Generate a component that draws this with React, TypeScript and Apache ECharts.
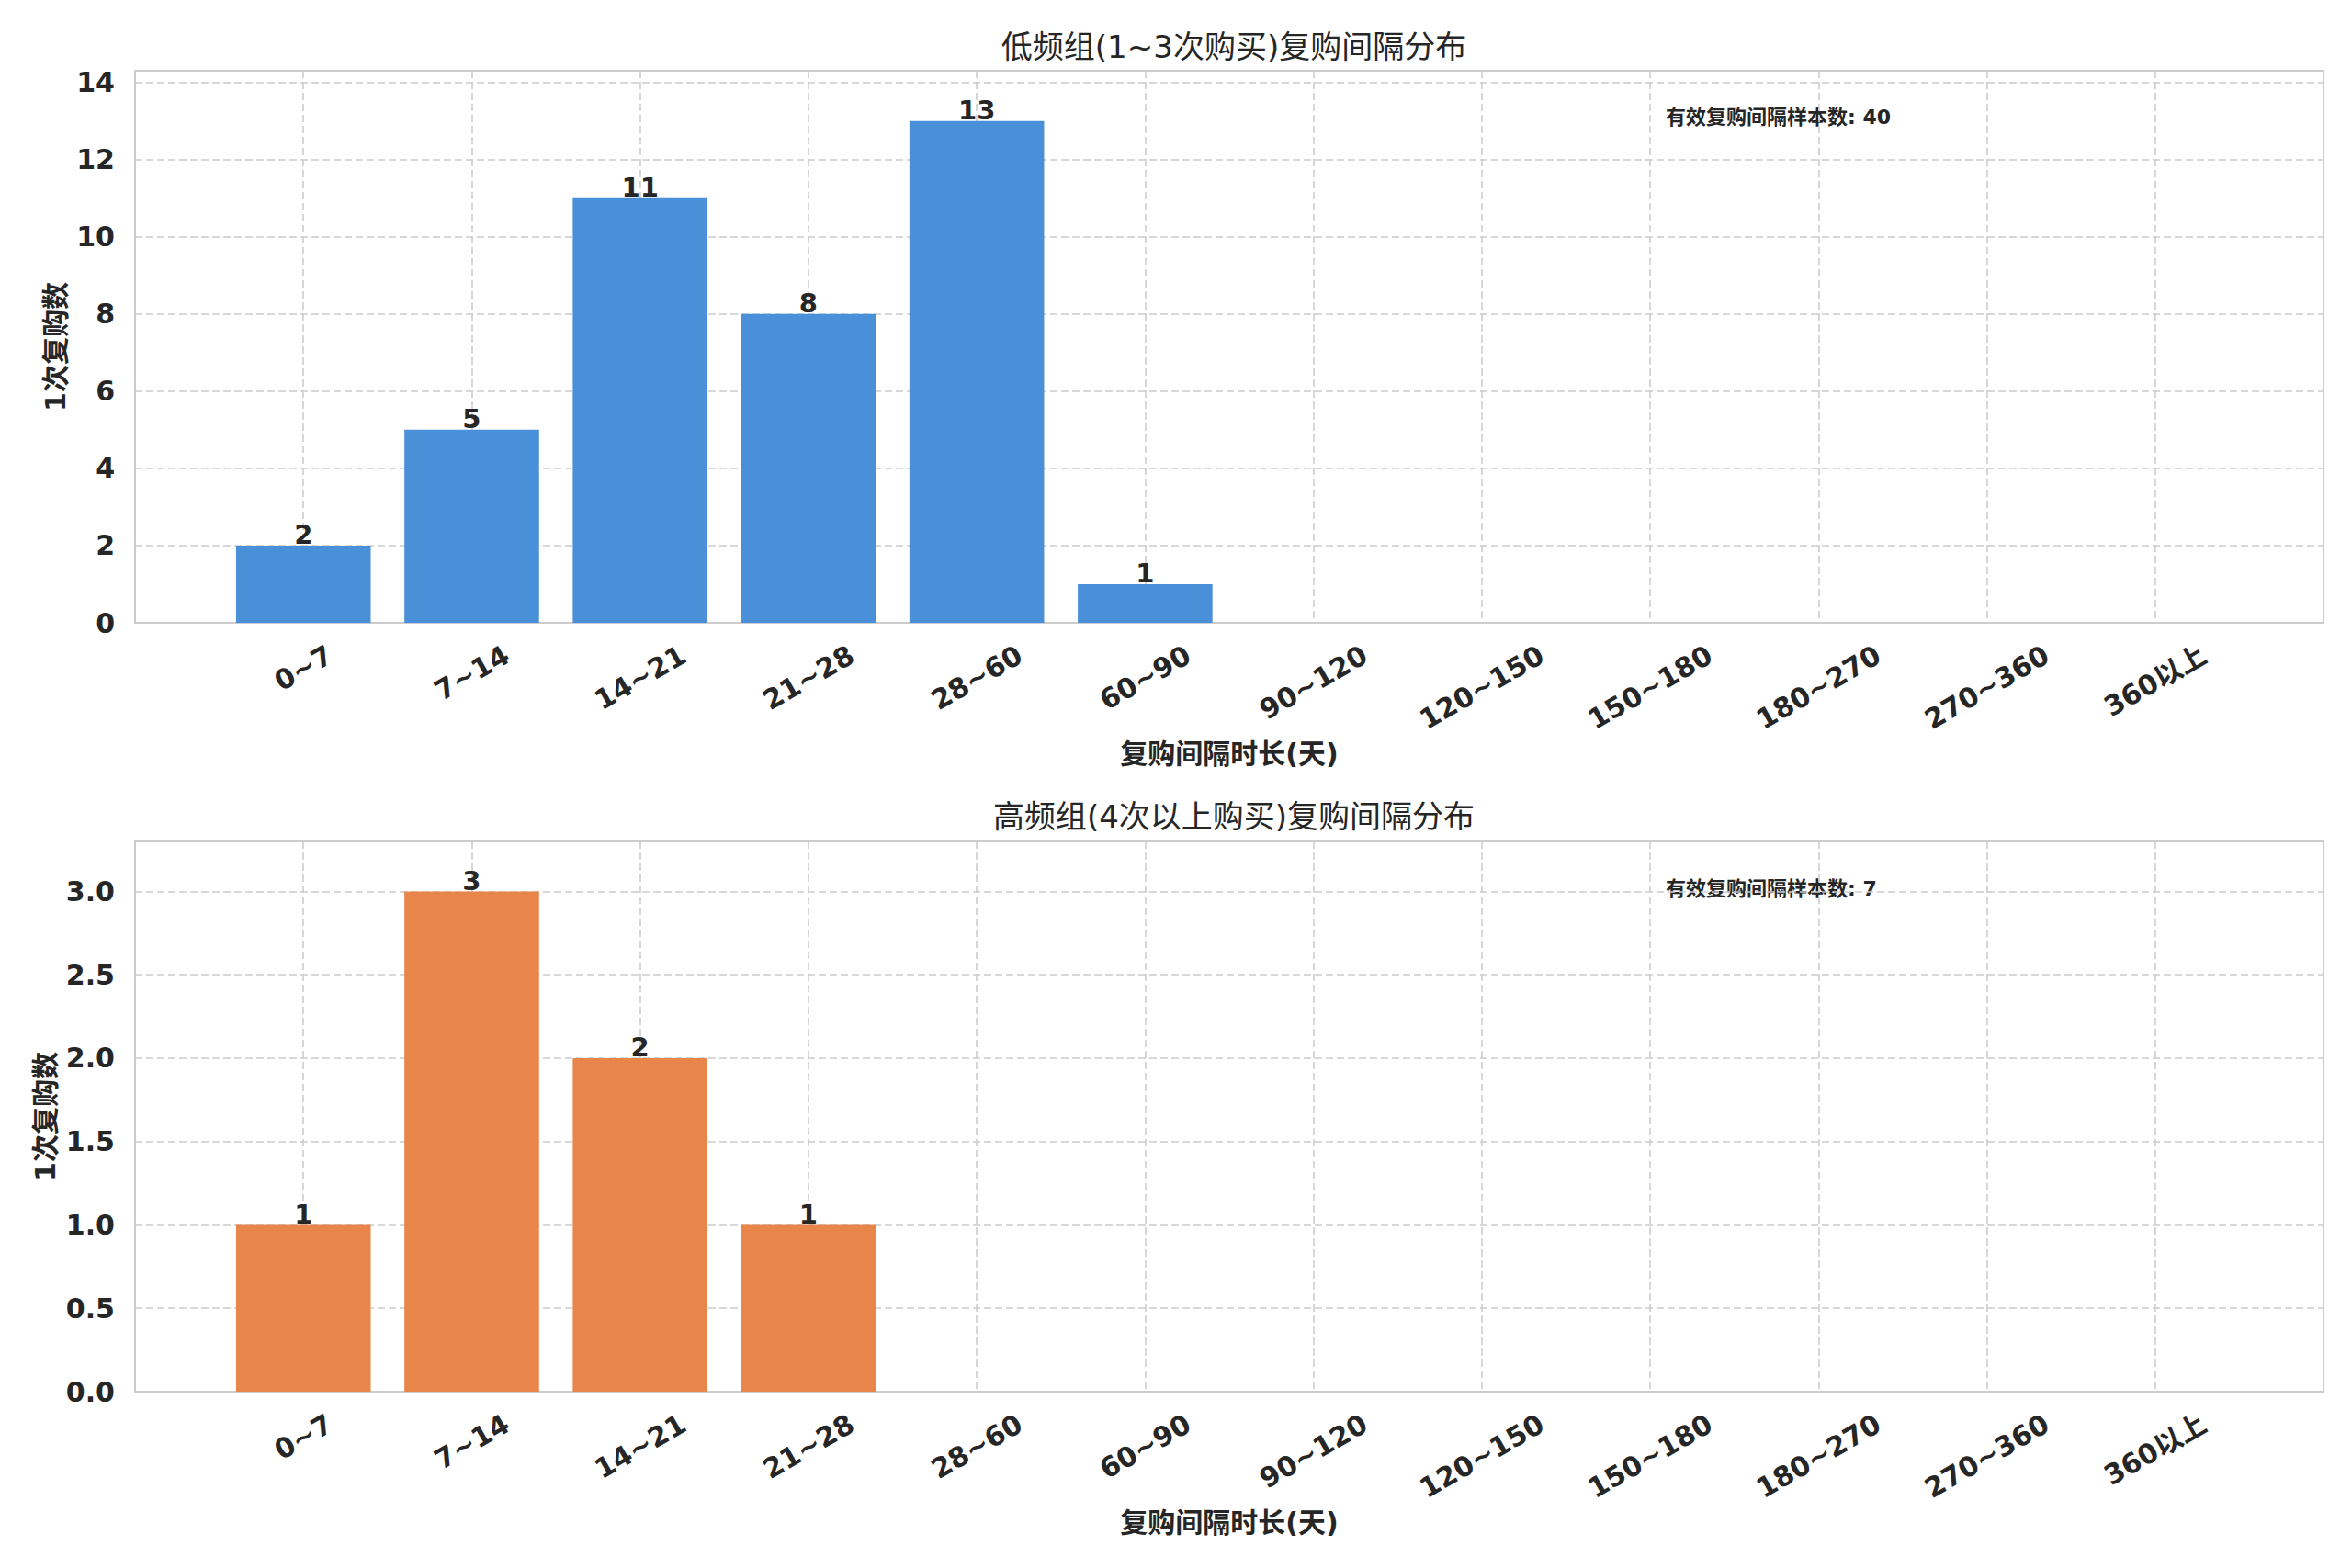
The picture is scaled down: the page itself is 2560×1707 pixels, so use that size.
import { useEffect, useRef } from "react";
import * as echarts from "echarts";

// 复购间隔区间(天)
const categories = [
  "0~7", "7~14", "14~21", "21~28", "28~60", "60~90",
  "90~120", "120~150", "150~180", "180~270", "270~360", "360以上",
];
const lowFreqCounts = [2, 5, 11, 8, 13, 1, 0, 0, 0, 0, 0, 0];
const highFreqCounts = [1, 3, 2, 1, 0, 0, 0, 0, 0, 0, 0, 0];

const panelTitles = ["低频组(1~3次购买)复购间隔分布", "高频组(4次以上购买)复购间隔分布"];
const xName = "复购间隔时长(天)";
const yName = "1次复购数";
const totalLabel = "有效复购间隔样本数";
const yMax = [14.3, 3.3];
const yInterval = [2, 0.5];
const barColors = ["#4a90d9", "#e8854a"];

const FONT = "'DejaVu Sans', 'Noto Sans CJK SC', sans-serif";
const INK = "#262626";
const GRID = "#cccccc";
const TICK_SIZE = 30;

// matplotlib hangs the top of each rotated label box just under the axis,
// so longer labels sit lower. Move each label's centre straight down by D:
// in its own 30° frame that is left D*sin (right padding) and down D*cos
// (a taller line box with top alignment).
function rotatedLabels() {
  const ctx = document.createElement("canvas").getContext("2d")!;
  ctx.font = `bold ${TICK_SIZE}px ${FONT}`;
  const s = Math.sin(Math.PI / 6);
  const c = Math.cos(Math.PI / 6);
  return ["", ...categories, ""].map((label) => {
    if (!label) return { value: label };
    const w = ctx.measureText(label).width;
    const D = 23 + (w * s + TICK_SIZE * 0.73 * c) / 2;
    return {
      value: label,
      textStyle: {
        align: "center",
        verticalAlign: "top",
        lineHeight: 2 * D * c,
        padding: [0, D, 0, 0],
      },
    };
  });
}

export default function App() {
  const chartRef = useRef<HTMLDivElement>(null);

  useEffect(() => {
    if (!chartRef.current) return;
    document.body.style.margin = "0";
    const chart = echarts.init(chartRef.current, null, { renderer: "svg" });

    const counts = [lowFreqCounts, highFreqCounts];
    const grids = [
      { left: 147, top: 77, width: 2382, height: 601 },
      { left: 147, top: 916, width: 2382, height: 599 },
    ];
    const xData = rotatedLabels();
    const dash = { color: GRID, type: [8, 4], width: 1.6 };
    const boldText = { fontFamily: FONT, fontWeight: "bold", fontSize: TICK_SIZE, color: INK };

    chart.setOption({
      animation: false,
      backgroundColor: "#ffffff",
      title: panelTitles.map((text, i) => ({
        text,
        left: 1338,
        textAlign: "center",
        top: [29, 867][i],
        textStyle: { fontFamily: FONT, fontSize: 34, fontWeight: "normal", color: INK },
      })),
      grid: grids.map((g) => ({
        ...g,
        show: true,
        borderColor: GRID,
        borderWidth: 2,
        outerBoundsMode: "none",
      })),
      xAxis: [0, 1].map((i) => ({
        gridIndex: i,
        type: "category",
        data: xData,
        boundaryGap: false,
        name: xName,
        nameLocation: "middle",
        nameGap: 127,
        nameMoveOverlap: false,
        nameTextStyle: boldText,
        axisLine: { show: false },
        axisTick: { show: false },
        axisLabel: {
          ...boldText,
          interval: 0,
          hideOverlap: false,
          rotate: 30,
          margin: 0,
        },
        splitLine: { show: true, lineStyle: dash },
      })),
      yAxis: [0, 1].map((i) => ({
        gridIndex: i,
        type: "value",
        min: 0,
        max: yMax[i],
        interval: yInterval[i],
        name: yName,
        nameLocation: "middle",
        nameGap: i ? 83 : 72,
        nameRotate: 90,
        nameMoveOverlap: false,
        nameTextStyle: boldText,
        axisLine: { show: false },
        axisTick: { show: false },
        axisLabel: {
          ...boldText,
          margin: 22,
          formatter: (v: number) =>
            Math.abs(v - yMax[i]) < 1e-9 ? "" : i ? v.toFixed(1) : String(v),
        },
        splitLine: { show: true, lineStyle: dash },
      })),
      series: [0, 1].map((i) => ({
        type: "bar",
        xAxisIndex: i,
        yAxisIndex: i,
        data: [null, ...counts[i], null],
        barWidth: "80%",
        itemStyle: { color: barColors[i] },
        label: {
          show: true,
          position: "top",
          distance: -3,
          ...boldText,
          fontSize: 29,
          formatter: (p: any) => (p.value > 0 ? String(p.value) : ""),
        },
      })),
      graphic: [0, 1].map((i) => ({
        type: "text",
        left: 1813,
        top: [116, 956][i],
        style: {
          text: `${totalLabel}: ${counts[i].reduce((a, b) => a + b, 0)}`,
          font: `bold 22px ${FONT}`,
          fill: INK,
        },
      })),
    });

    return () => {
      chart.dispose();
    };
  }, []);

  return <div ref={chartRef} style={{ width: "2560px", height: "1707px" }} />;
}
